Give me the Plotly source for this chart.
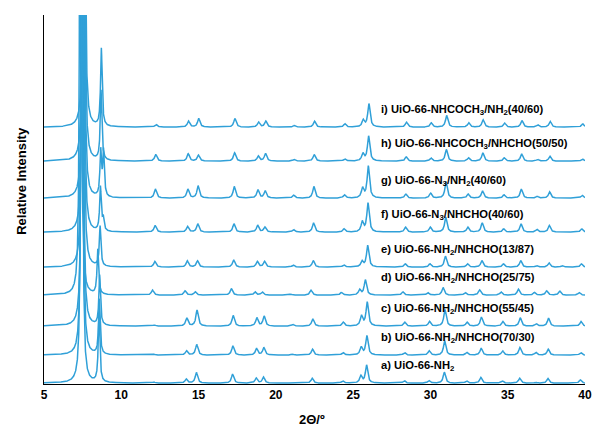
import numpy as np
import plotly.graph_objects as go

# ---------------- data ----------------
sample_labels = [
    "a) UiO-66-NH<sub>2</sub>",
    "b) UiO-66-NH<sub>2</sub>/NHCHO(70/30)",
    "c) UiO-66-NH<sub>2</sub>/NHCHO(55/45)",
    "d) UiO-66-NH<sub>2</sub>/NHCHO(25/75)",
    "e) UiO-66-NH<sub>2</sub>/NHCHO(13/87)",
    "f) UiO-66-N<sub>3</sub>/NHCHO(40/60)",
    "g) UiO-66-N<sub>3</sub>/NH<sub>2</sub>(40/60)",
    "h) UiO-66-NHCOCH<sub>3</sub>/NHCHO(50/50)",
    "i) UiO-66-NHCOCH<sub>3</sub>/NH<sub>2</sub>(40/60)",
]
# vertical stacking offset of each pattern (relative intensity units)
stack_offsets = [0, 28, 57, 88, 116, 151, 185, 222, 256]
# small angular shift of each measured pattern (deg 2theta)
pattern_shift = [0.0, 0.02, 0.04, -0.08, 0.07, 0.09, 0.11, 0.13, 0.15]

# reflection positions (deg 2theta) and half widths
peak_pos = [7.44, 8.56, 8.74, 12.1, 14.2, 14.86, 17.2, 18.73, 19.2, 21.05, 22.35,
            24.32, 25.5, 25.87, 28.3, 29.9, 30.9, 32.33, 33.26, 34.65, 35.77,
            36.8, 37.6, 38.45, 39.7]
peak_hwhm = [0.04, 0.06, 0.06] + [0.09] * 22

# peak heights for each pattern a) ... i)
peak_heights = [
    [1200, 70, 0, 1.0, 4.0, 10.7, 9.0, 5.0, 6.0, 0.5, 5.0, 2.3, 7.0, 18.0, 2.7, 2.7, 11.0, 2.3, 5.7, 2.3, 5.0, 1.0, 4.7, 0.0, 3.3],
    [1200, 55, 0, 1.0, 4.3, 10.7, 9.3, 6.7, 7.7, 1.0, 6.0, 2.7, 7.7, 19.3, 2.7, 4.3, 14.3, 2.7, 7.0, 4.3, 7.7, 2.7, 6.0, 0.0, 2.7],
    [1200, 50, 0, 1.0, 8.0, 16.0, 10.7, 8.3, 10.0, 1.7, 7.3, 4.0, 10.0, 24.0, 4.0, 4.7, 16.7, 4.0, 9.0, 4.7, 8.3, 2.3, 8.0, 0.0, 4.7],
    [1200, 45, 0, 5.0, 4.3, 3.3, 6.7, 3.3, 3.3, 1.0, 5.0, 2.7, 5.3, 15.3, 3.3, 2.7, 7.7, 2.7, 5.3, 3.3, 6.0, 2.7, 4.3, 4.0, 2.7],
    [1200, 40, 0, 5.7, 6.3, 6.3, 7.3, 5.7, 5.7, 2.3, 6.7, 2.3, 5.7, 21.7, 3.3, 3.3, 11.0, 3.3, 6.7, 3.3, 6.7, 1.7, 4.3, 1.7, 3.3],
    [1200, 44, 12, 6.7, 5.7, 8.3, 8.3, 7.0, 5.0, 2.7, 9.3, 3.3, 10.0, 29.0, 5.0, 5.0, 15.0, 5.0, 9.3, 3.3, 8.3, 2.7, 6.7, 0.0, 3.3],
    [1200, 45, 45, 9.0, 9.0, 12.3, 11.7, 8.3, 7.3, 3.0, 11.7, 3.3, 9.7, 32.0, 4.0, 5.0, 16.3, 4.0, 7.3, 3.3, 9.0, 1.7, 6.3, 0.0, 3.0],
    [1200, 70, 0, 6.7, 7.3, 6.0, 8.3, 5.0, 7.7, 1.7, 6.7, 2.3, 7.3, 25.0, 4.3, 3.3, 11.7, 3.3, 8.3, 3.3, 7.3, 1.7, 5.0, 0.0, 2.3],
    [1200, 78, 0, 2.7, 6.0, 8.7, 8.7, 5.0, 6.0, 1.7, 6.0, 3.3, 6.7, 23.3, 5.0, 4.3, 11.7, 4.3, 7.3, 4.0, 6.7, 2.3, 5.7, 0.0, 3.3],
]

x_ticks = [5, 10, 15, 20, 25, 30, 35, 40]

# ---------------- build figure ----------------
COLOR = "#30A0D8"
FONT = "Liberation Sans, Arial, sans-serif"
two_theta = np.arange(5.0, 40.0001, 0.005)

fig = go.Figure()
for k, heights in enumerate(peak_heights):
    y = np.zeros_like(two_theta)
    for pos, w, h in zip(peak_pos, peak_hwhm, heights):
        if h == 0:
            continue
        c = pos + pattern_shift[k]
        y += h * w**2 / ((two_theta - c) ** 2 + w**2)
    fig.add_trace(go.Scatter(
        x=two_theta, y=y + stack_offsets[k], mode="lines",
        line=dict(color=COLOR, width=1.5), hoverinfo="skip", showlegend=False))
    fig.add_annotation(
        x=26.65, y=stack_offsets[k] + 17, xref="x", yref="y",
        text=sample_labels[k], showarrow=False, xanchor="left", yanchor="middle",
        font=dict(family=FONT, size=11.2, color="black", weight="bold"))

# axis titles as annotations for exact placement
fig.add_annotation(
    x=-0.043, y=0.55, xref="paper", yref="paper", text="Relative Intensity",
    textangle=-90, showarrow=False, xanchor="center", yanchor="middle",
    font=dict(family=FONT, size=13, color="black", weight="bold"))
fig.add_annotation(
    x=0.495, y=-0.095, xref="paper", yref="paper", text="2Θ/º",
    showarrow=False, xanchor="center", yanchor="middle",
    font=dict(family=FONT, size=13, color="black", weight="bold"))

fig.update_layout(
    width=594, height=426,
    margin=dict(l=44, r=9, t=15, b=42, autoexpand=False),
    paper_bgcolor="white", plot_bgcolor="white",
    font=dict(family=FONT, color="black"),
    xaxis=dict(
        range=[5, 40], tickvals=x_ticks, ticktext=[str(t) for t in x_ticks],
        showgrid=False, zeroline=False, showline=True, linecolor="black",
        linewidth=1, ticks="", layer="below traces", automargin=False,
        tickfont=dict(size=12, weight="bold"),
    ),
    yaxis=dict(
        range=[-0.8, 368.2], showticklabels=False, showgrid=False,
        zeroline=False, showline=True, linecolor="black", linewidth=1.2,
        ticks="", layer="below traces", automargin=False,
    ),
)

fig.write_html(
    "out.html",
    config={"displayModeBar": False},
    post_script="document.body.style.margin='0px';document.body.style.overflow='hidden';",
)
